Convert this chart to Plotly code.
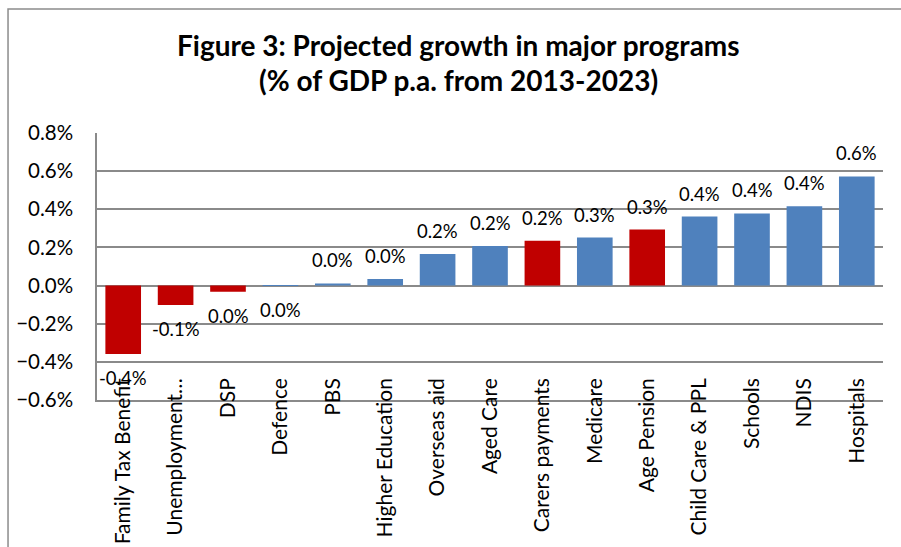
import plotly.graph_objects as go

# Projected growth in major programs, % of GDP p.a. (2013-2023)
programs = [
    "Family Tax Benefit", "Unemployment…", "DSP", "Defence", "PBS",
    "Higher Education", "Overseas aid", "Aged Care", "Carers payments",
    "Medicare", "Age Pension", "Child Care & PPL", "Schools", "NDIS", "Hospitals",
]
growth = [
    -0.359, -0.102, -0.032, -0.002, 0.011,
    0.034, 0.165, 0.208, 0.235,
    0.252, 0.294, 0.362, 0.378, 0.416, 0.572,
]
# payments to individuals are highlighted in red
highlight = [True, True, True, False, False,
             False, False, False, True,
             False, True, False, False, False, False]

RED = "#C00000"
BLUE = "#4F81BD"
GRID = "#8a8a8a"
FONT = "Lato"


def pct_label(v):
    r = round(v, 1)
    return "0.0%" if r == 0 else f"{r:.1f}%"


colors = [RED if h else BLUE for h in highlight]

fig = go.Figure()
fig.add_trace(go.Bar(
    x=programs,
    y=growth,
    marker=dict(color=colors, line=dict(width=0)),
    hoverinfo="x+y",
))

# value labels just beyond the end of each bar
for name, v in zip(programs, growth):
    fig.add_annotation(
        x=name, y=v, xref="x", yref="y",
        text=pct_label(v), showarrow=False,
        yanchor="middle", yshift=23 if v > 0 else -24,
        font=dict(family=FONT, size=18.5, color="#000000"),
    )

# two-line title
fig.add_annotation(
    x=0.46, y=1.2566, xref="paper", yref="paper",
    text="<b>Figure 3: Projected growth in major programs</b>",
    showarrow=False, yanchor="bottom",
    font=dict(family=FONT, size=28, color="#000000"),
)
fig.add_annotation(
    x=0.46, y=1.1255, xref="paper", yref="paper",
    text="<b>(% of GDP p.a. from 2013-2023)</b>",
    showarrow=False, yanchor="bottom",
    font=dict(family=FONT, size=28, color="#000000"),
)

# chart-area border
fig.add_shape(
    type="rect", xref="paper", yref="paper",
    x0=-0.1132, x1=1.2, y0=-1.0, y1=1.4644,
    line=dict(color="#8c8c8c", width=1.5), fillcolor="rgba(0,0,0,0)",
    layer="below",
)

fig.update_layout(
    width=901, height=547,
    margin=dict(l=97, r=18, t=133, b=147),
    paper_bgcolor="white", plot_bgcolor="white",
    showlegend=False,
    bargap=0.32,
    font=dict(family=FONT, color="#000000"),
)

fig.update_yaxes(
    range=[-0.6, 0.8], dtick=0.2, tick0=0,
    tickformat=".1f", ticksuffix="%",
    showgrid=True, gridcolor=GRID, gridwidth=1.5,
    zeroline=True, zerolinecolor=GRID, zerolinewidth=1.5,
    showline=True, linecolor=GRID, linewidth=1.5,
    ticks="", ticklabelstandoff=18,
    tickfont=dict(family=FONT, size=20.5, color="#000000"),
    automargin=False, fixedrange=True,
)
fig.update_xaxes(
    type="category",
    showline=True, linecolor=GRID, linewidth=1.5,
    showgrid=False, ticks="",
    tickangle=-90, ticklabelstandoff=-32,
    tickfont=dict(family=FONT, size=21, color="#000000"),
    automargin=False, fixedrange=True,
)

fig.write_html("out.html")
